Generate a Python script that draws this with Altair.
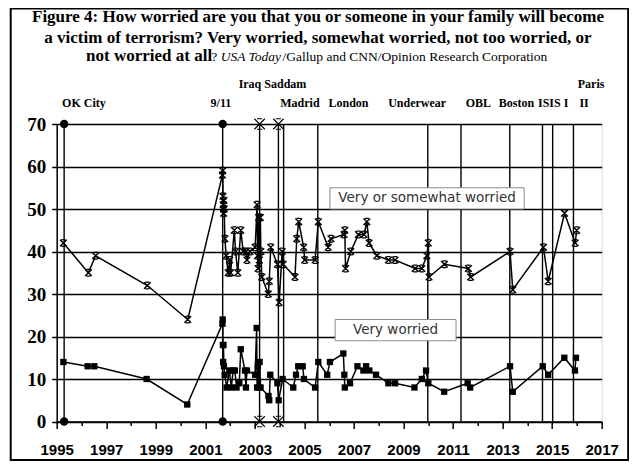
import altair as alt
import pandas as pd

# ---------------- data ----------------
vs_years = [1995.27, 1996.28, 1996.57, 1998.66, 2000.29,
            2001.69, 2001.70, 2001.71, 2001.72, 2001.73, 2001.74, 2001.75, 2001.76,
            2001.79, 2001.84, 2001.92, 2001.98, 2002.02, 2002.17, 2002.22, 2002.31,
            2002.43, 2002.53, 2002.65, 2002.68, 2002.80, 2003.01, 2003.09, 2003.11,
            2003.13, 2003.15, 2003.18, 2003.22, 2003.24, 2003.28, 2003.54, 2003.58,
            2003.64, 2003.91, 2003.98, 2004.10, 2004.14, 2004.62, 2004.69, 2004.77,
            2004.97, 2005.01, 2005.43, 2005.56, 2005.96, 2006.07, 2006.60, 2006.63,
            2006.66, 2006.87, 2007.18, 2007.41, 2007.52, 2007.61, 2007.92, 2008.39,
            2008.66, 2009.47, 2009.74, 2009.94, 2010.00, 2010.03, 2010.65, 2011.62,
            2011.71, 2013.30, 2013.41, 2014.65, 2014.84, 2015.50, 2015.93, 2015.99]
vs_vals = [42, 35, 39, 32, 24,
           58, 59, 53, 51, 50, 49, 52, 50,
           43, 39, 35, 38, 35, 45, 40, 35,
           45, 40, 40, 38, 40, 41, 51, 39,
           36, 48, 38, 48, 40, 34, 30, 33,
           41, 37, 28, 40, 37, 34, 43, 47,
           41, 38, 38, 47, 41, 43, 44, 45,
           36, 40, 44, 44, 47, 42, 39, 38,
           38, 36, 36, 39, 42, 34, 37, 36,
           34, 40, 31, 41, 33, 49, 42, 45]

vw_years = [1995.27, 1996.25, 1996.52, 1998.63, 2000.27,
            2001.69, 2001.70, 2001.71, 2001.72, 2001.73, 2001.75, 2001.78,
            2001.86, 2001.97, 2002.05, 2002.12, 2002.19, 2002.26, 2002.37, 2002.43,
            2002.60, 2002.64, 2002.68, 2003.01, 2003.07, 2003.09, 2003.12, 2003.15,
            2003.19, 2003.23, 2003.55, 2003.58, 2003.62, 2003.91, 2003.96, 2004.12,
            2004.55, 2004.66, 2004.75, 2004.93, 2004.98, 2005.43, 2005.56, 2005.92,
            2006.03, 2006.57, 2006.61, 2006.63, 2006.84, 2007.14, 2007.38, 2007.49,
            2007.62, 2007.89, 2008.39, 2008.66, 2009.44, 2009.74, 2009.91, 2010.00,
            2010.64, 2011.59, 2011.69, 2013.30, 2013.41, 2014.62, 2014.84, 2015.49,
            2015.92, 2015.96]
vw_vals = [14, 13, 13, 10, 4,
           23, 24, 18, 14, 18, 13, 11,
           8, 12, 8, 12, 12, 8, 9, 17,
           12, 8, 12, 11, 22, 8, 13, 8,
           14, 8, 6, 5, 11, 9, 5, 10,
           8, 11, 13, 13, 10, 8, 14, 11,
           14, 16, 11, 8, 9, 13, 12, 13,
           12, 11, 9, 9, 8, 10, 12, 9,
           7, 9, 8, 13, 7, 13, 11, 15,
           12, 15]

event_names = ["OK City", "9/11", "Iraq", "Saddam", "Madrid", "London",
               "Underwear", "OBL", "Boston", "ISIS", "Paris I", "Paris II"]
event_years = [1995.30, 2001.70, 2003.19, 2003.95, 2004.16, 2005.54,
               2009.98, 2011.32, 2013.29, 2014.61, 2015.02, 2015.86]
event_marker = ["dot", "dot", "cross", "cross", "", "", "", "", "", "", "", ""]

label_texts = ["OK City", "9/11", "Iraq Saddam", "Madrid", "London", "Underwear",
               "OBL", "Boston", "ISIS I", "II", "Paris"]
label_years = [1996.10, 2001.63, 2003.71, 2004.82, 2006.78, 2009.55,
               2012.02, 2013.56, 2015.04, 2016.29, 2016.57]
label_rows = [2, 2, 1, 2, 2, 2, 2, 2, 2, 2, 1]

box_texts = ["Very or somewhat worried", "Very worried"]
box_x1 = [2006.03, 2006.24]
box_x2 = [2013.87, 2011.12]
box_y1 = [50, 19]
box_y2 = [55, 24]

title_line1 = "Figure 4: How worried are you that you or someone in your family will become"
title_line2 = "a victim of terrorism? Very worried, somewhat worried, not too worried, or"
title_bold3 = "not worried at all"
title_q = "?"
title_ital = "USA Today"
title_rest = "/Gallup and CNN/Opinion Research Corporation"

# ---------------- tables ----------------
vs_df = pd.DataFrame({"year": vs_years, "val": vs_vals, "i": range(len(vs_years))})
vw_df = pd.DataFrame({"year": vw_years, "val": vw_vals, "i": range(len(vw_years))})
ev_df = pd.DataFrame({"name": event_names, "year": event_years, "marker": event_marker})
ends = []
for n, yv, m in zip(event_names, event_years, event_marker):
    if m:
        for v in (0, 70):
            ends.append({"name": n, "year": yv, "val": v, "marker": m})
end_df = pd.DataFrame(ends)
lab_df = pd.DataFrame({"text": label_texts, "year": label_years, "row": label_rows})
box_df = pd.DataFrame({"text": box_texts, "x1": box_x1, "x2": box_x2, "y1": box_y1, "y2": box_y2})
box_df["xc"] = (box_df.x1 + box_df.x2) / 2
box_df["yc"] = (box_df.y1 + box_df.y2) / 2
one = pd.DataFrame({"a": [0]})

SERIF = "Liberation Serif"
NARROW = "Liberation Sans Narrow, Liberation Sans, Arial"

xs = alt.Scale(domain=[1995, 2017], nice=False, zero=False)
ys = alt.Scale(domain=[0, 70], nice=False)

x_axis = alt.Axis(values=list(range(1995, 2018)), format="d",
                  labelExpr="datum.value % 2 === 1 ? datum.label : ''",
                  tickSize={"condition": {"test": "datum.value % 2 === 1", "value": 7}, "value": 4},
                  tickColor="black", tickWidth=1.5, domainColor="black", domainWidth=1.5,
                  labelFont=NARROW, labelFontWeight="bold", labelFontSize=15, labelColor="black",
                  labelPadding=14, labelFlush=False, labelOverlap=False, grid=False, title=None)
y_axis = alt.Axis(values=list(range(0, 71, 10)), tickColor="black", tickWidth=1.5, tickSize=5,
                  domainColor="black", domainWidth=1.5, gridColor="black", gridWidth=1.5,
                  grid=True, labelFont=SERIF, labelFontWeight="bold", labelFontSize=19,
                  labelColor="black", labelPadding=6, title=None)


def XN(f):
    return alt.X(f, type="quantitative", scale=xs, axis=x_axis)


def YN(f):
    return alt.Y(f, type="quantitative", scale=ys, axis=y_axis)


frame = alt.Chart(one).mark_rect(filled=False, stroke="black", strokeWidth=2).encode(
    x=alt.value(-46), x2=alt.value(571.5), y=alt.value(-115.5), y2=alt.value(336))

rules = alt.Chart(ev_df).mark_rule(color="black", strokeWidth=1.4).encode(
    x=XN("year"), y=alt.Y(datum=0, scale=ys, axis=y_axis), y2=alt.Y2(datum=70))

boxes = alt.Chart(box_df).mark_rect(fill="white", stroke="#8c8c8c", strokeWidth=1).encode(
    x=XN("x1"), x2="x2", y=YN("y1"), y2="y2")

vs_line = alt.Chart(vs_df).mark_line(color="black", strokeWidth=1.5).encode(
    x=XN("year"), y=YN("val"), order="i:Q")
vw_line = alt.Chart(vw_df).mark_line(color="black", strokeWidth=1.5).encode(
    x=XN("year"), y=YN("val"), order="i:Q")

XMARK = "M-1,-1L1,1M1,-1L-1,1M-0.6,-1L0.6,-1M-0.6,1L0.6,1"
vs_pts = alt.Chart(vs_df).mark_point(shape=XMARK, filled=False, color="black",
                                     strokeWidth=1.4, size=45, opacity=1).encode(
    x=XN("year"), y=YN("val"))
vw_pts = alt.Chart(vw_df).mark_point(shape="square", filled=True, color="black",
                                     size=40, opacity=1).encode(
    x=XN("year"), y=YN("val"))

dots = alt.Chart(end_df).transform_filter(alt.datum.marker == "dot").mark_point(
    shape="circle", filled=True, color="black", size=70, opacity=1).encode(
    x=XN("year"), y=YN("val"))
crosses = alt.Chart(end_df).transform_filter(alt.datum.marker == "cross").mark_point(
    shape="M-1,-1L1,1M1,-1L-1,1M-0.5,-1L0.5,-1M-0.5,1L0.5,1", filled=False, color="black",
    strokeWidth=1.1, size=110, opacity=1).encode(
    x=XN("year"), y=YN("val"))

box_txt = alt.Chart(box_df).mark_text(font="DejaVu Sans", fontSize=13.5, color="#333333",
                                      align="center", baseline="middle").encode(
    x=XN("xc"), y=YN("yc"), text="text:N")

lab1 = alt.Chart(lab_df).transform_filter(alt.datum.row == 1).mark_text(
    font=SERIF, fontWeight="bold", fontSize=12, color="black", align="center",
    baseline="middle").encode(x=XN("year"), y=alt.value(-40), text="text:N")
lab2 = alt.Chart(lab_df).transform_filter(alt.datum.row == 2).mark_text(
    font=SERIF, fontWeight="bold", fontSize=12, color="black", align="center",
    baseline="middle").encode(x=XN("year"), y=alt.value(-21), text="text:N")


def ttext(txt, x, y, size, weight="bold", style="normal", align="center"):
    return alt.Chart(one).mark_text(font=SERIF, fontWeight=weight, fontStyle=style,
                                    fontSize=size, color="black", align=align,
                                    baseline="alphabetic").encode(
        x=alt.value(x), y=alt.value(y), text=alt.value(txt))


t1 = ttext(title_line1, 261.3, -102.5, 17)
t2 = ttext(title_line2, 261.3, -81.5, 17)
t3a = ttext(title_bold3, 29.4, -63.5, 17, align="left")
t3b = ttext(title_q, 154.6, -63.5, 13.5, weight="normal", align="left")
t3c = ttext(title_ital, 164.0, -63.5, 13.5, weight="normal", style="italic", align="left")
t3d = ttext(title_rest, 225.9, -63.5, 13.5, weight="normal", align="left")

chart = alt.layer(
    frame, vs_line, rules, boxes, vw_line, vs_pts, vw_pts, dots, crosses,
    box_txt, lab1, lab2, t1, t2, t3a, t3b, t3c, t3d
).properties(
    width=545, height=297.5,
    autosize=alt.AutoSizeParams(type="none"),
    padding={"left": 48.7, "top": 116, "right": 27.3, "bottom": 39.5},
).configure_view(stroke=None).configure(background="white")

chart.save("out.html", embed_options={"renderer": "svg", "actions": False})
